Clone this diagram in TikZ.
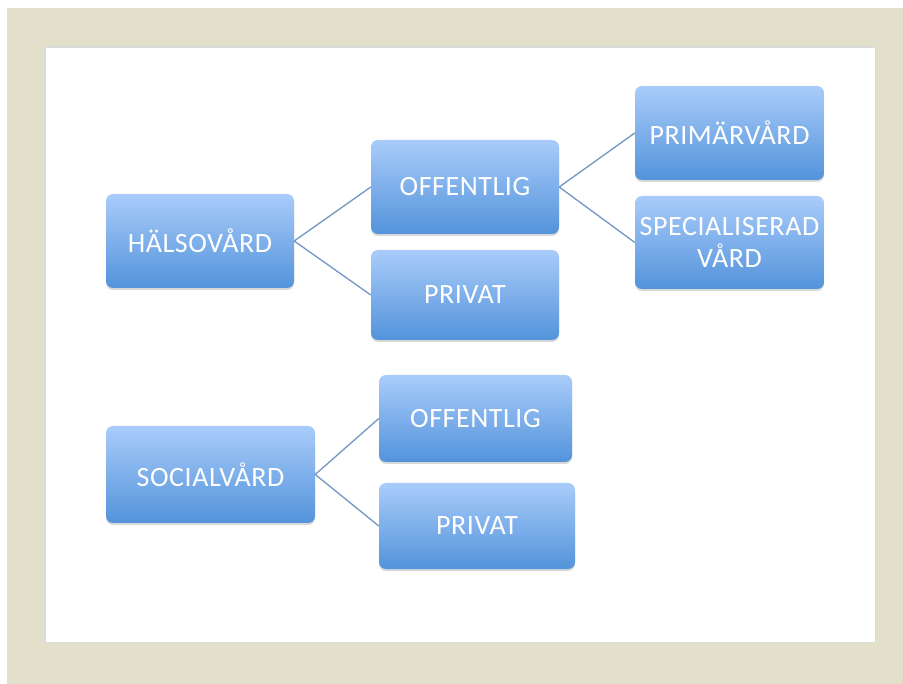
\documentclass[tikz,border=0pt]{standalone}
\usepackage{fontspec}
\setmainfont{Carlito}[LetterSpace=2]
\usetikzlibrary{shadows}
\definecolor{frame}{HTML}{E2DFCB}
\definecolor{boxtop}{HTML}{A9CCFA}
\definecolor{boxbot}{HTML}{5393DB}
\definecolor{link}{HTML}{7397C4}
\tikzset{
  x=1pt, y=-1pt,
  box/.style={rounded corners=7pt, top color=boxtop, bottom color=boxbot,
    draw=none, text=white, font=\fontsize{28}{32}\selectfont, align=center,
    drop shadow={shadow xshift=0pt, shadow yshift=-2pt, opacity=0.25, fill=black!60}},
  link/.style={draw=link, line width=1.3pt}
}
% a box spanning the rectangle (x1,y1)-(x2,y2)
\newcommand{\bx}[6]{%
  \node[box, minimum width=#4-#2, minimum height=#5-#3, inner sep=0pt]
    (#1) at ({(#2+#4)/2},{(#3+#5)/2}) {#6};}
\begin{document}
\begin{tikzpicture}
  \useasboundingbox (0,0) rectangle (903,684);
  \fill[white] (0,0) rectangle (903,684);
  \fill[frame] (7,8) rectangle (903,684);
  % faint shadow of the inner sheet
  \fill[black!14] (44,46) rectangle (876,643);
  \fill[white] (46,48) rectangle (875,642);

  \bx{hv}{106}{194}{294}{288}{HÄLSOVÅRD}
  \bx{off1}{371}{140}{559}{234}{OFFENTLIG}
  \bx{priv1}{371}{250}{559}{340}{PRIVAT}
  \bx{prim}{635}{86}{824}{180}{PRIMÄRVÅRD}
  \bx{spec}{635}{196}{824}{289}{SPECIALISERAD\\VÅRD}
  \bx{sv}{106}{426}{315}{523}{SOCIALVÅRD}
  \bx{off2}{379}{375}{572}{462}{OFFENTLIG}
  \bx{priv2}{379}{483}{575}{569}{PRIVAT}

  \draw[link] (hv.east) -- (off1.west);
  \draw[link] (hv.east) -- (priv1.west);
  \draw[link] (off1.east) -- (prim.west);
  \draw[link] (off1.east) -- (spec.west);
  \draw[link] (sv.east) -- (off2.west);
  \draw[link] (sv.east) -- (priv2.west);
\end{tikzpicture}
\end{document}
